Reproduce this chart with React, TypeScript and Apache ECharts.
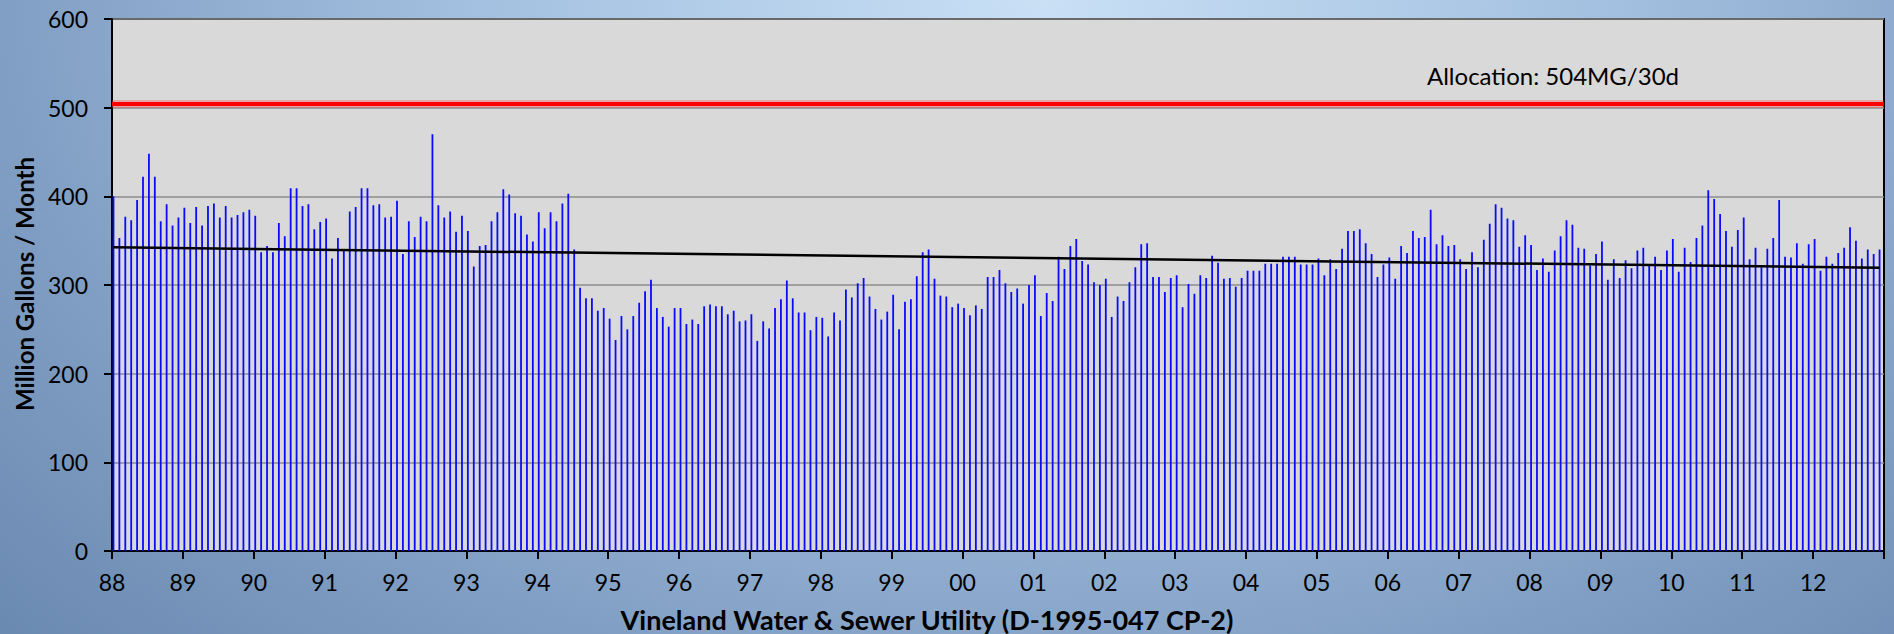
import React, { useEffect, useRef } from 'react';
import * as echarts from 'echarts';

// Year tick labels (one tick every 12 months)
const yearLabels = ['88','89','90','91','92','93','94','95','96','97','98','99','00','01','02','03','04','05','06','07','08','09','10','11','12'];

// Monthly usage, million gallons / month
const y1988 = [400, 353, 377, 373, 396, 422, 448, 422, 372, 391, 367, 376];
const y1989 = [387, 370, 388, 367, 389, 392, 376, 389, 376, 379, 382, 385];
const y1990 = [378, 337, 344, 337, 370, 355, 409, 409, 389, 391, 363, 371];
const y1991 = [375, 330, 353, 339, 383, 388, 409, 409, 390, 391, 376, 377];
const y1992 = [395, 335, 372, 354, 377, 372, 470, 390, 376, 383, 360, 378];
const y1993 = [361, 321, 344, 345, 372, 382, 408, 402, 381, 378, 357, 349];
const y1994 = [382, 364, 382, 372, 392, 403, 340, 297, 285, 285, 271, 274];
const y1995 = [262, 238, 265, 250, 265, 280, 293, 306, 274, 264, 253, 274];
const y1996 = [274, 256, 261, 256, 276, 278, 276, 276, 267, 271, 259, 260];
const y1997 = [267, 237, 259, 251, 274, 284, 305, 285, 269, 269, 249, 264];
const y1998 = [263, 242, 269, 260, 295, 286, 302, 308, 287, 273, 261, 270];
const y1999 = [289, 250, 281, 284, 310, 337, 340, 307, 288, 287, 275, 279];
const y2000 = [274, 266, 277, 273, 309, 309, 317, 302, 292, 296, 279, 300];
const y2001 = [311, 265, 291, 282, 332, 318, 344, 352, 327, 323, 303, 300];
const y2002 = [307, 264, 287, 282, 303, 320, 346, 347, 309, 309, 292, 308];
const y2003 = [311, 275, 301, 290, 311, 308, 333, 325, 307, 308, 298, 308];
const y2004 = [316, 316, 316, 324, 324, 324, 332, 332, 332, 323, 323, 323];
const y2005 = [330, 311, 329, 318, 341, 361, 361, 363, 347, 335, 309, 323];
const y2006 = [331, 307, 344, 336, 361, 353, 354, 385, 346, 356, 344, 345];
const y2007 = [329, 318, 337, 320, 351, 369, 391, 387, 375, 373, 343, 356];
const y2008 = [345, 317, 330, 315, 339, 355, 373, 368, 342, 341, 322, 335];
const y2009 = [349, 306, 329, 308, 328, 319, 339, 342, 323, 332, 317, 339];
const y2010 = [352, 315, 342, 326, 353, 367, 407, 397, 380, 361, 343, 362];
const y2011 = [376, 329, 342, 320, 341, 353, 396, 332, 331, 347, 324, 346];
const y2012 = [352, 316, 332, 324, 336, 342, 365, 350, 330, 340, 335, 340];

const usage = [
  ...y1988, ...y1989, ...y1990, ...y1991, ...y1992, ...y1993, ...y1994, ...y1995,
  ...y1996, ...y1997, ...y1998, ...y1999, ...y2000, ...y2001, ...y2002, ...y2003,
  ...y2004, ...y2005, ...y2006, ...y2007, ...y2008, ...y2009, ...y2010, ...y2011, ...y2012,
];

// Allocation limit and linear trend endpoints
const allocation = 504;
const allocationLabel = 'Allocation: 504MG/30d';
const trendStart = 342.5;
const trendEnd = 319.5;

const yTitle = 'Million Gallons / Month';
const xTitle = 'Vineland Water & Sewer Utility (D-1995-047 CP-2)';

const FONT = 'Lato, "Open Sans", sans-serif';
const MONTH_OFFSET = 0.25;

export default function App() {
  const ref = useRef<HTMLDivElement>(null);

  useEffect(() => {
    if (!ref.current) return;
    const chart = echarts.init(ref.current, null, { renderer: 'svg' });
    const totalMonths = yearLabels.length * 12;
    const barData = usage.map((v, i) => [i + MONTH_OFFSET, v]);
    const allocData = [
      [0, allocation],
      [totalMonths, allocation],
    ];
    const option: any = {
      animation: false,
      backgroundColor: 'transparent',
      grid: {
        left: 112,
        right: 10,
        top: 19,
        bottom: 83,
        show: true,
        backgroundColor: '#d9d9d9',
        borderColor: '#000',
        borderWidth: 2,
      },
      xAxis: {
        type: 'value',
        min: 0,
        max: totalMonths,
        interval: 12,
        axisLine: { show: true, onZero: false, lineStyle: { color: '#000', width: 2 } },
        axisTick: { show: true, length: 8, lineStyle: { color: '#000', width: 2 } },
        axisLabel: {
          formatter: (v: number) => yearLabels[Math.round(v / 12)] ?? '',
          fontSize: 23,
          color: '#000',
          margin: 19,
          fontFamily: FONT,
        },
        splitLine: { show: false },
      },
      yAxis: {
        type: 'value',
        min: 0,
        max: 600,
        interval: 100,
        axisLine: { show: true, lineStyle: { color: '#000', width: 2 } },
        axisTick: { show: true, length: 8, lineStyle: { color: '#000', width: 2 } },
        axisLabel: { fontSize: 23, color: '#000', margin: 24, fontFamily: FONT },
        splitLine: { show: true, lineStyle: { color: '#8c8c8c', width: 1.5 } },
      },
      series: [
        {
          type: 'bar',
          data: barData,
          barWidth: 1.8,
          itemStyle: { color: '#0a0aff' },
          z: 2,
        },
        {
          type: 'line',
          data: allocData,
          symbol: 'none',
          silent: true,
          lineStyle: { color: 'rgba(255,70,70,0.35)', width: 8 },
          z: 3,
        },
        {
          type: 'line',
          data: allocData,
          symbol: 'none',
          silent: true,
          lineStyle: { color: '#ff0000', width: 4 },
          z: 3,
        },
        {
          type: 'line',
          data: [
            [MONTH_OFFSET, trendStart],
            [usage.length - 1 + MONTH_OFFSET, trendEnd],
          ],
          symbol: 'none',
          lineStyle: { color: '#000', width: 2.5 },
          z: 4,
        },
      ],
      graphic: [
        {
          type: 'text',
          x: 24,
          y: 284,
          rotation: Math.PI / 2,
          style: {
            text: yTitle,
            fontSize: 24,
            fontWeight: 'bold',
            fontFamily: FONT,
            fill: '#000',
            align: 'center',
            verticalAlign: 'middle',
          },
        },
        {
          type: 'text',
          x: 927,
          y: 619,
          style: {
            text: xTitle,
            fontSize: 27,
            fontWeight: 'bold',
            fontFamily: FONT,
            fill: '#000',
            align: 'center',
            verticalAlign: 'middle',
          },
        },
        {
          type: 'text',
          x: 1553,
          y: 75,
          style: {
            text: allocationLabel,
            fontSize: 24,
            fontFamily: FONT,
            fill: '#000',
            align: 'center',
            verticalAlign: 'middle',
          },
        },
      ],
    };
    chart.setOption(option);
    return () => chart.dispose();
  }, []);

  return (
    <div
      ref={ref}
      style={{
        position: 'absolute',
        left: 0,
        top: 0,
        width: 1894,
        height: 634,
        background:
          'radial-gradient(ellipse 75% 150% at 55% 0%, #c9e0f5 0%, #a3c0e0 40%, #7f9dc2 75%, #6a89b0 100%)',
      }}
    />
  );
}
